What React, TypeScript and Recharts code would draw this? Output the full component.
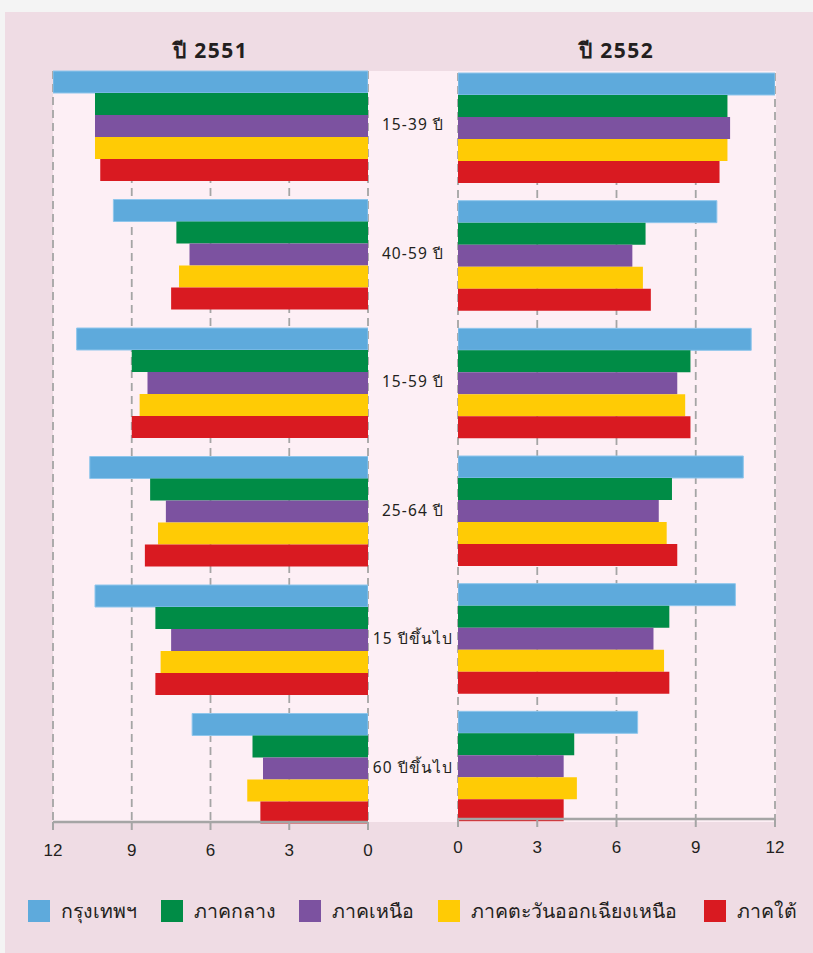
import { BarChart, Bar, XAxis, YAxis, CartesianGrid } from "recharts";

const categories = ["15-39 ปี", "40-59 ปี", "15-59 ปี", "25-64 ปี", "15 ปีขึ้นไป", "60 ปีขึ้นไป"];
const xTicks = [0, 3, 6, 9, 12];

const seriesNames = ["กรุงเทพฯ", "ภาคกลาง", "ภาคเหนือ", "ภาคตะวันออกเฉียงเหนือ", "ภาคใต้"];
const seriesKeys = ["bkk", "central", "north", "northeast", "south"];
const seriesColors = ["#5eaadc", "#008c46", "#7c52a0", "#ffcb05", "#d91a21"];

// ปี 2551
const bkk2551 = [12.0, 9.7, 11.1, 10.6, 10.4, 6.7];
const central2551 = [10.4, 7.3, 9.0, 8.3, 8.1, 4.4];
const north2551 = [10.4, 6.8, 8.4, 7.7, 7.5, 4.0];
const northeast2551 = [10.4, 7.2, 8.7, 8.0, 7.9, 4.6];
const south2551 = [10.2, 7.5, 9.0, 8.5, 8.1, 4.1];

// ปี 2552
const bkk2552 = [12.0, 9.8, 11.1, 10.8, 10.5, 6.8];
const central2552 = [10.2, 7.1, 8.8, 8.1, 8.0, 4.4];
const north2552 = [10.3, 6.6, 8.3, 7.6, 7.4, 4.0];
const northeast2552 = [10.2, 7.0, 8.6, 7.9, 7.8, 4.5];
const south2552 = [9.9, 7.3, 8.8, 8.3, 8.0, 4.0];

const buildRows = (cols: number[][]) =>
  categories.map((name, i) => {
    const row: Record<string, string | number> = { name };
    seriesKeys.forEach((k, s) => (row[k] = cols[s][i]));
    return row;
  });

const data2551 = buildRows([bkk2551, central2551, north2551, northeast2551, south2551]);
const data2552 = buildRows([bkk2552, central2552, north2552, northeast2552, south2552]);

const FONT = '"Noto Sans", "DejaVu Sans", sans-serif';
const NUM_FONT = '"Liberation Sans Narrow", "Liberation Sans", sans-serif';
const TEXT = "#231f20";
const GRID = "#a5a5a5";
const PLOT_RIGHT = 368;
const MID_WIDTH = 90;

const CategoryTick = (props: any) => {
  const { y, payload } = props;
  return (
    <text
      x={PLOT_RIGHT + MID_WIDTH / 2}
      y={y}
      dy={5}
      textAnchor="middle"
      fill={TEXT}
      fontSize={15.5}
      letterSpacing={1.1}
      fontFamily={FONT}
    >
      {payload.value}
    </text>
  );
};

const renderBars = () =>
  seriesKeys.map((k, i) => (
    <Bar
      key={k}
      dataKey={k}
      name={seriesNames[i]}
      fill={seriesColors[i]}
      stroke={i === 0 ? "#8fc6ec" : undefined}
      strokeWidth={i === 0 ? 1 : 0}
      isAnimationActive={false}
    />
  ));

const xAxisProps = {
  type: "number" as const,
  domain: [0, 12],
  ticks: xTicks,
  allowDataOverflow: true,
  height: 30,
  tickSize: 8,
  tickMargin: 14,
  axisLine: { stroke: GRID, strokeWidth: 2.5 },
  tickLine: { stroke: GRID, strokeWidth: 2 },
  tick: { fill: TEXT, fontSize: 17, fontFamily: NUM_FONT },
};

const titleStyle = {
  position: "absolute" as const,
  top: 34,
  textAlign: "center" as const,
  fontSize: 21,
  fontWeight: "bold",
  letterSpacing: 1.5,
  color: TEXT,
};

export default function App() {
  return (
    <div
      style={{
        position: "absolute",
        left: 0,
        top: 0,
        width: 813,
        height: 953,
        background: "#f4f4f4",
        overflow: "hidden",
        fontFamily: FONT,
      }}
    >
      <div
        style={{
          position: "absolute",
          left: 5,
          top: 12,
          width: 808,
          height: 941,
          background: "#efdce4",
        }}
      />
      <div
        style={{
          position: "absolute",
          left: 53,
          top: 71,
          width: 723,
          height: 751,
          background: "#fdeff5",
        }}
      />
      <div style={{ ...titleStyle, left: 53, width: 315 }}>ปี 2551</div>
      <div style={{ ...titleStyle, left: 458, width: 317 }}>ปี 2552</div>

      <div style={{ position: "absolute", left: 0, top: 0 }}>
        <BarChart
          width={460}
          height={880}
          data={data2551}
          layout="vertical"
          margin={{ top: 71, right: 2, bottom: 28, left: 53 }}
          barGap={0}
          barCategoryGap={10}
        >
          <CartesianGrid horizontal={false} stroke={GRID} strokeWidth={1.8} strokeDasharray="8 5" />
          <XAxis {...xAxisProps} reversed />
          <YAxis
            type="category"
            dataKey="name"
            orientation="right"
            width={MID_WIDTH}
            axisLine={false}
            tickLine={false}
            padding={{ top: -10, bottom: -10 }}
            tick={<CategoryTick />}
          />
          {renderBars()}
        </BarChart>
      </div>

      <div style={{ position: "absolute", left: 440, top: 0 }}>
        <BarChart
          width={355}
          height={880}
          data={data2552}
          layout="vertical"
          margin={{ top: 73, right: 20, bottom: 31, left: 18 }}
          barGap={0}
          barCategoryGap={10}
        >
          <CartesianGrid horizontal={false} stroke={GRID} strokeWidth={1.8} strokeDasharray="8 5" />
          <XAxis {...xAxisProps} />
          <YAxis type="category" dataKey="name" hide padding={{ top: -10, bottom: -10 }} />
          {renderBars()}
        </BarChart>
      </div>

      {seriesNames.map((name, i) => (
        <div
          key={name}
          style={{
            position: "absolute",
            left: [28, 161, 299, 438, 704][i],
            top: 900,
            display: "flex",
            alignItems: "center",
            height: 22,
            fontSize: 19.5,
            color: TEXT,
            whiteSpace: "nowrap",
          }}
        >
          <span
            style={{
              display: "inline-block",
              width: 22,
              height: 22,
              background: seriesColors[i],
              marginRight: 11,
            }}
          />
          {name}
        </div>
      ))}
    </div>
  );
}
